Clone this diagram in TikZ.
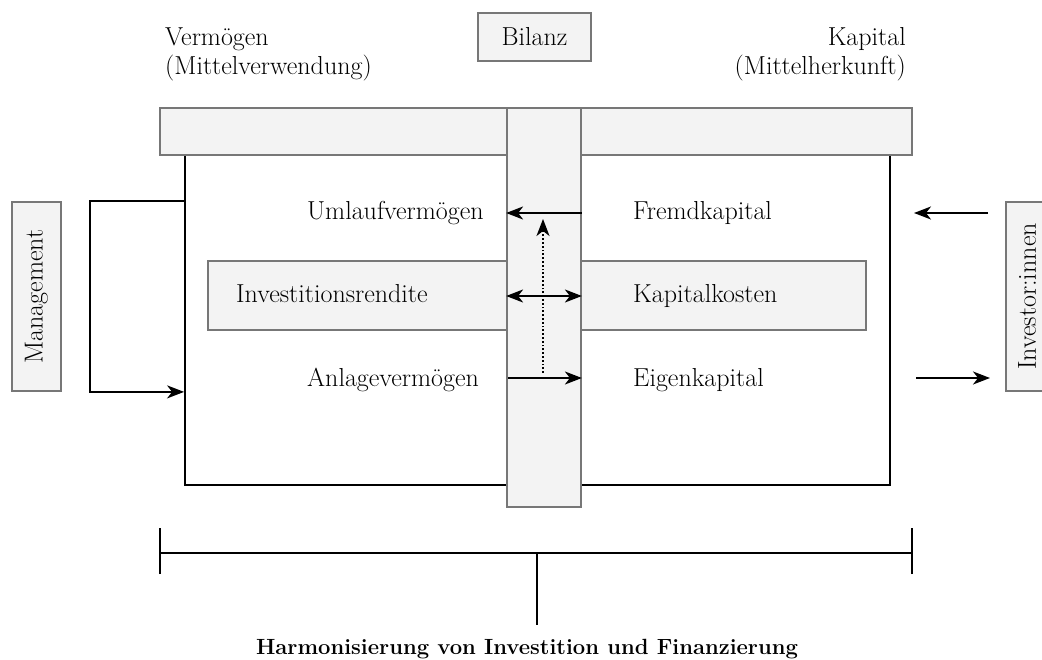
\documentclass[tikz,border=0pt]{standalone}
\usetikzlibrary{arrows.meta}
\definecolor{boxfill}{HTML}{F3F3F3}
\definecolor{boxline}{HTML}{777777}
\begin{document}
\begin{tikzpicture}[x=1pt,y=-1pt,
  >={Stealth[length=17pt,width=13pt,inset=5pt]},
  panel/.style={draw=boxline, fill=boxfill, line width=1.8pt, inner sep=0pt},
  txt/.style={font=\fontsize{26}{29}\selectfont, inner sep=0pt},
  conn/.style={line width=1.8pt, ->},
  line/.style={line width=1.8pt},
]
\useasboundingbox (0,0) rectangle (1042,660);

% balance sheet frame
\node[draw=black, line width=1.8pt, minimum width=705pt, minimum height=330pt, inner sep=0pt] (main) at (537.5,320) {};
\node[panel, minimum width=752pt, minimum height=47pt] (topbar) at (536,131.5) {};
\node[panel, minimum width=658pt, minimum height=69pt] (midbar) at (537,295.5) {};
\node[panel, minimum width=74pt, minimum height=399pt] (vbar) at (544,307.5) {};

% title and side headings
\node[panel, minimum width=113pt, minimum height=48pt, txt] (bilanz) at (534.5,37) {Bilanz};
\node[txt, anchor=base west] (assets) at (165,46) {Verm\"ogen};
\node[txt, anchor=base west] (assets2) at (165,75) {(Mittelverwendung)};
\node[txt, anchor=base east] (capital) at (906,46) {Kapital};
\node[txt, anchor=base east] (capital2) at (906,75) {(Mittelherkunft)};

% actors
\node[panel, minimum width=189pt, minimum height=49pt, txt, rotate=90] (mgmt) at (36.5,296.5) {Management};
\node[panel, minimum width=189pt, minimum height=52pt, rotate=90] (inv) at (1032,296.5) {};
\node[txt, rotate=90] (invtext) at (1027,296.5) {Investor:innen};

% balance sheet items
\node[txt, anchor=base west] (uv) at (307,220) {Umlaufverm\"ogen};
\node[txt, anchor=base west] (fk) at (633,220) {Fremdkapital};
\node[txt, anchor=base west] (ir) at (236,303) {Investitionsrendite};
\node[txt, anchor=base west] (kk) at (633,303) {Kapitalkosten};
\node[txt, anchor=base west] (av) at (307,386) {Anlageverm\"ogen};
\node[txt, anchor=base west] (ek) at (633,386) {Eigenkapital};

% row heights of the flow arrows
\coordinate (rowA) at (0,213);
\coordinate (rowB) at (0,296);
\coordinate (rowC) at (0,378);

% flows across the balance sheet
\draw[conn] (vbar.east |- rowA) -- (vbar.west |- rowA);
\draw[line, <->] (vbar.west |- rowB) -- (vbar.east |- rowB);
\draw[conn] ([xshift=2pt]vbar.west |- rowC) -- (vbar.east |- rowC);
\coordinate (dotlow) at (543,373);
\coordinate (dothigh) at (543,219);
\draw[conn, dotted] (dotlow) -- (dothigh);

% management loop
\coordinate (loopx) at (90,0);
\draw[conn] (main.west |- mgmt.east) -- (loopx |- mgmt.east) -- (loopx |- mgmt.west) -- (main.west |- mgmt.west);

% investor flows
\coordinate (inx) at (988,0);
\coordinate (outx) at (914,0);
\draw[conn] (inx |- rowA) -- (outx |- rowA);
\draw[conn] ([xshift=2pt]outx |- rowC) -- ([xshift=2pt]inx |- rowC);

% bracket
\coordinate (bl) at (160,553);
\coordinate (br) at (912,553);
\coordinate (bm) at (537,553);
\coordinate (bmlow) at (537,625);
\node[font=\fontsize{22}{26}\selectfont\bfseries, inner sep=0pt, anchor=base] (harm) at (527,654) {Harmonisierung von Investition und Finanzierung};
\draw[line] (bl) -- (br);
\draw[line] ([yshift=-21pt]bl) -- ([yshift=25pt]bl);
\draw[line] ([yshift=-21pt]br) -- ([yshift=25pt]br);
\draw[line] (bm) -- (bmlow);
\end{tikzpicture}
\end{document}
